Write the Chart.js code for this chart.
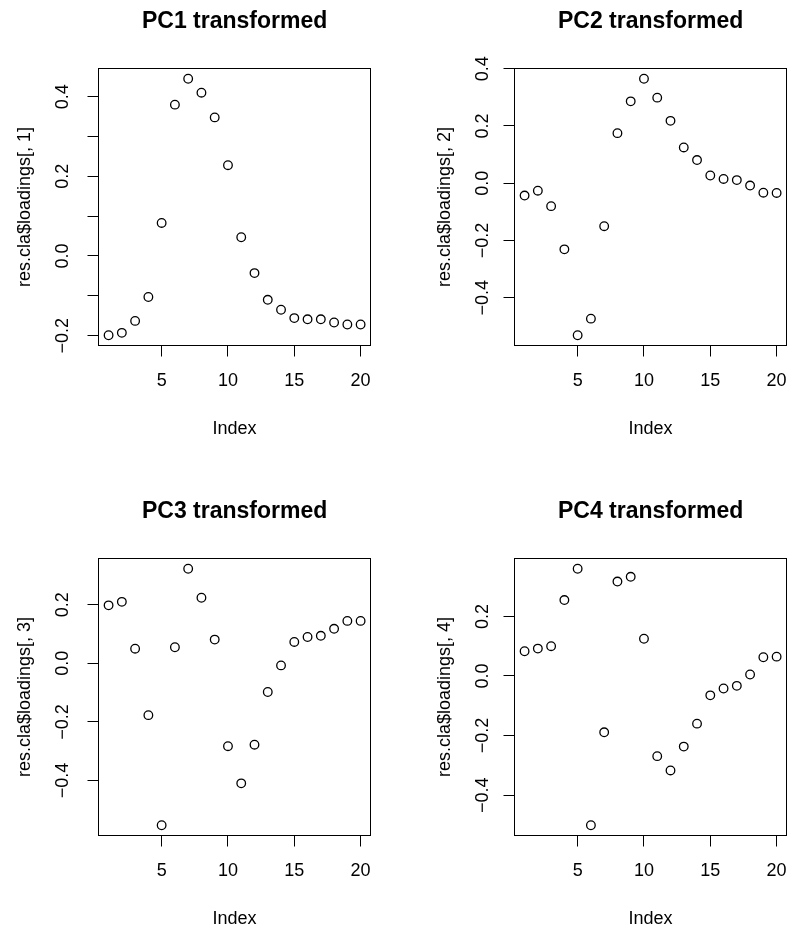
<!DOCTYPE html>
<html><head><meta charset="utf-8">
<script src="https://cdn.jsdelivr.net/npm/chart.js@4.4.1/dist/chart.umd.min.js"></script>
<style>
html,body{margin:0;padding:0;background:#fff;overflow:hidden;width:790px;height:926px;position:relative;}
canvas{position:absolute;}
</style></head><body>
<canvas id="c1" width="395" height="463" style="left:0px;top:0px"></canvas>
<canvas id="c2" width="395" height="463" style="left:420px;top:0px"></canvas>
<canvas id="c3" width="395" height="463" style="left:0px;top:490px"></canvas>
<canvas id="c4" width="395" height="463" style="left:420px;top:490px"></canvas>
<script>
// ---- data ----
const index = [1,2,3,4,5,6,7,8,9,10,11,12,13,14,15,16,17,18,19,20];
const pc1 = [-0.199,-0.193,-0.163,-0.103,0.083,0.380,0.445,0.410,0.348,0.228,0.047,-0.043,-0.110,-0.135,-0.156,-0.159,-0.159,-0.167,-0.172,-0.172];
const pc2 = [-0.043,-0.026,-0.080,-0.231,-0.531,-0.473,-0.150,0.175,0.286,0.365,0.299,0.218,0.125,0.081,0.027,0.015,0.011,-0.008,-0.033,-0.034];
const pc3 = [0.198,0.210,0.050,-0.177,-0.553,0.055,0.323,0.224,0.081,-0.283,-0.410,-0.278,-0.098,-0.007,0.073,0.090,0.094,0.118,0.145,0.145];
const pc4 = [0.083,0.092,0.100,0.255,0.360,-0.501,-0.189,0.317,0.333,0.125,-0.269,-0.317,-0.237,-0.160,-0.065,-0.042,-0.033,0.005,0.063,0.065];
const titles = ['PC1 transformed','PC2 transformed','PC3 transformed','PC4 transformed'];
const yAxisTitles = ['res.cla$loadings[, 1]','res.cla$loadings[, 2]','res.cla$loadings[, 3]','res.cla$loadings[, 4]'];
const xAxisTitle = 'Index';
const xTicks = [5,10,15,20];
const xTickLabels = ['5','10','15','20'];
const yTicks1 = [-0.2,-0.1,0,0.1,0.2,0.3,0.4];
const yTickLabels1 = ['\u22120.2','','0.0','','0.2','','0.4'];
const yTicks2 = [-0.4,-0.2,0,0.2,0.4];
const yTickLabels2 = ['\u22120.4','\u22120.2','0.0','0.2','0.4'];
const yTicks3 = [-0.4,-0.2,0,0.2];
const yTickLabels3 = ['\u22120.4','\u22120.2','0.0','0.2'];
const yTicks4 = [-0.4,-0.2,0,0.2];
const yTickLabels4 = ['\u22120.4','\u22120.2','0.0','0.2'];

// ---- rendering ----
const FONT = "'Liberation Sans', Arial, Helvetica, sans-serif";
function rRange(arr){ const mn=Math.min(...arr), mx=Math.max(...arr), d=(mx-mn)*0.04; return [mn-d, mx+d]; }

const boxPlugin = {
  id:'box',
  afterDraw(chart){
    const {ctx, chartArea:a} = chart;
    const s = v => Math.round(v-0.5)+0.5;
    ctx.save();
    ctx.strokeStyle='#000'; ctx.lineWidth=1;
    ctx.strokeRect(s(a.left), s(a.top), s(a.right)-s(a.left), s(a.bottom)-s(a.top));
    ctx.restore();
  }
};

function makeChart(id, values, title, yTitle, yTicks, yTickLabels, lay){
  const xr = rRange(index), yr = rRange(values);
  const tickGrid = {display:true, drawOnChartArea:false, drawTicks:true, tickLength:11, tickColor:'#000', tickWidth:1, color:'#000', lineWidth:1};
  return new Chart(document.getElementById(id), {
    type:'scatter',
    data:{datasets:[{
      data:index.map((x,i)=>({x:x, y:values[i]})),
      pointStyle:'circle', pointRadius:4.3, pointBorderWidth:1.3,
      pointBackgroundColor:'rgba(0,0,0,0)', pointBorderColor:'#000', showLine:false
    }]},
    options:{
      responsive:false, animation:false, events:[],
      layout:{padding:{left:0, top:0, right:lay.rightPad, bottom:0}},
      plugins:{
        legend:{display:false}, tooltip:{enabled:false},
        title:{display:true, text:title, fullSize:false, color:'#000',
          font:{family:FONT, size:23, weight:'bold', lineHeight:1.2},
          padding:{top:8.23, bottom:32.67}}
      },
      scales:{
        x:{type:'linear', position:'bottom', min:xr[0], max:xr[1], bounds:'data',
          afterBuildTicks:s=>{ s.ticks = xTicks.map(v=>({value:v})); },
          afterFit:s=>{ s.height = 117.5; },
          ticks:{autoSkip:false, maxRotation:0, minRotation:0, padding:13.5, color:'#000',
            font:{family:FONT, size:18}, callback:(v,i)=>xTickLabels[i]},
          grid:tickGrid, border:{display:false},
          title:{display:true, text:xAxisTitle, color:'#000', font:{family:FONT, size:18, lineHeight:1.2}, padding:{top:0, bottom:23.4}}
        },
        y:{type:'linear', position:'left', min:yr[0], max:yr[1], bounds:'data',
          afterBuildTicks:s=>{ s.ticks = yTicks.map(v=>({value:v})); },
          afterFit:s=>{ s.width = lay.yW; },
          ticks:{autoSkip:false, minRotation:90, maxRotation:90, crossAlign:'center', padding:lay.tickPad, color:'#000',
            font:{family:FONT, size:18}, callback:(v,i)=>yTickLabels[i]},
          grid:tickGrid, border:{display:false},
          title:{display:true, text:yTitle, color:'#000', font:{family:FONT, size:18, lineHeight:1.2}, padding:{top:14.7, bottom:0}}
        }
      }
    },
    plugins:[boxPlugin]
  });
}

const leftCol = {yW:98.5, tickPad:6.45, rightPad:24.3};
const rightCol = {yW:94.5, tickPad:2.45, rightPad:28.3};
makeChart('c1', pc1, titles[0], yAxisTitles[0], yTicks1, yTickLabels1, leftCol);
makeChart('c2', pc2, titles[1], yAxisTitles[1], yTicks2, yTickLabels2, rightCol);
makeChart('c3', pc3, titles[2], yAxisTitles[2], yTicks3, yTickLabels3, leftCol);
makeChart('c4', pc4, titles[3], yAxisTitles[3], yTicks4, yTickLabels4, rightCol);
</script>
</body></html>
